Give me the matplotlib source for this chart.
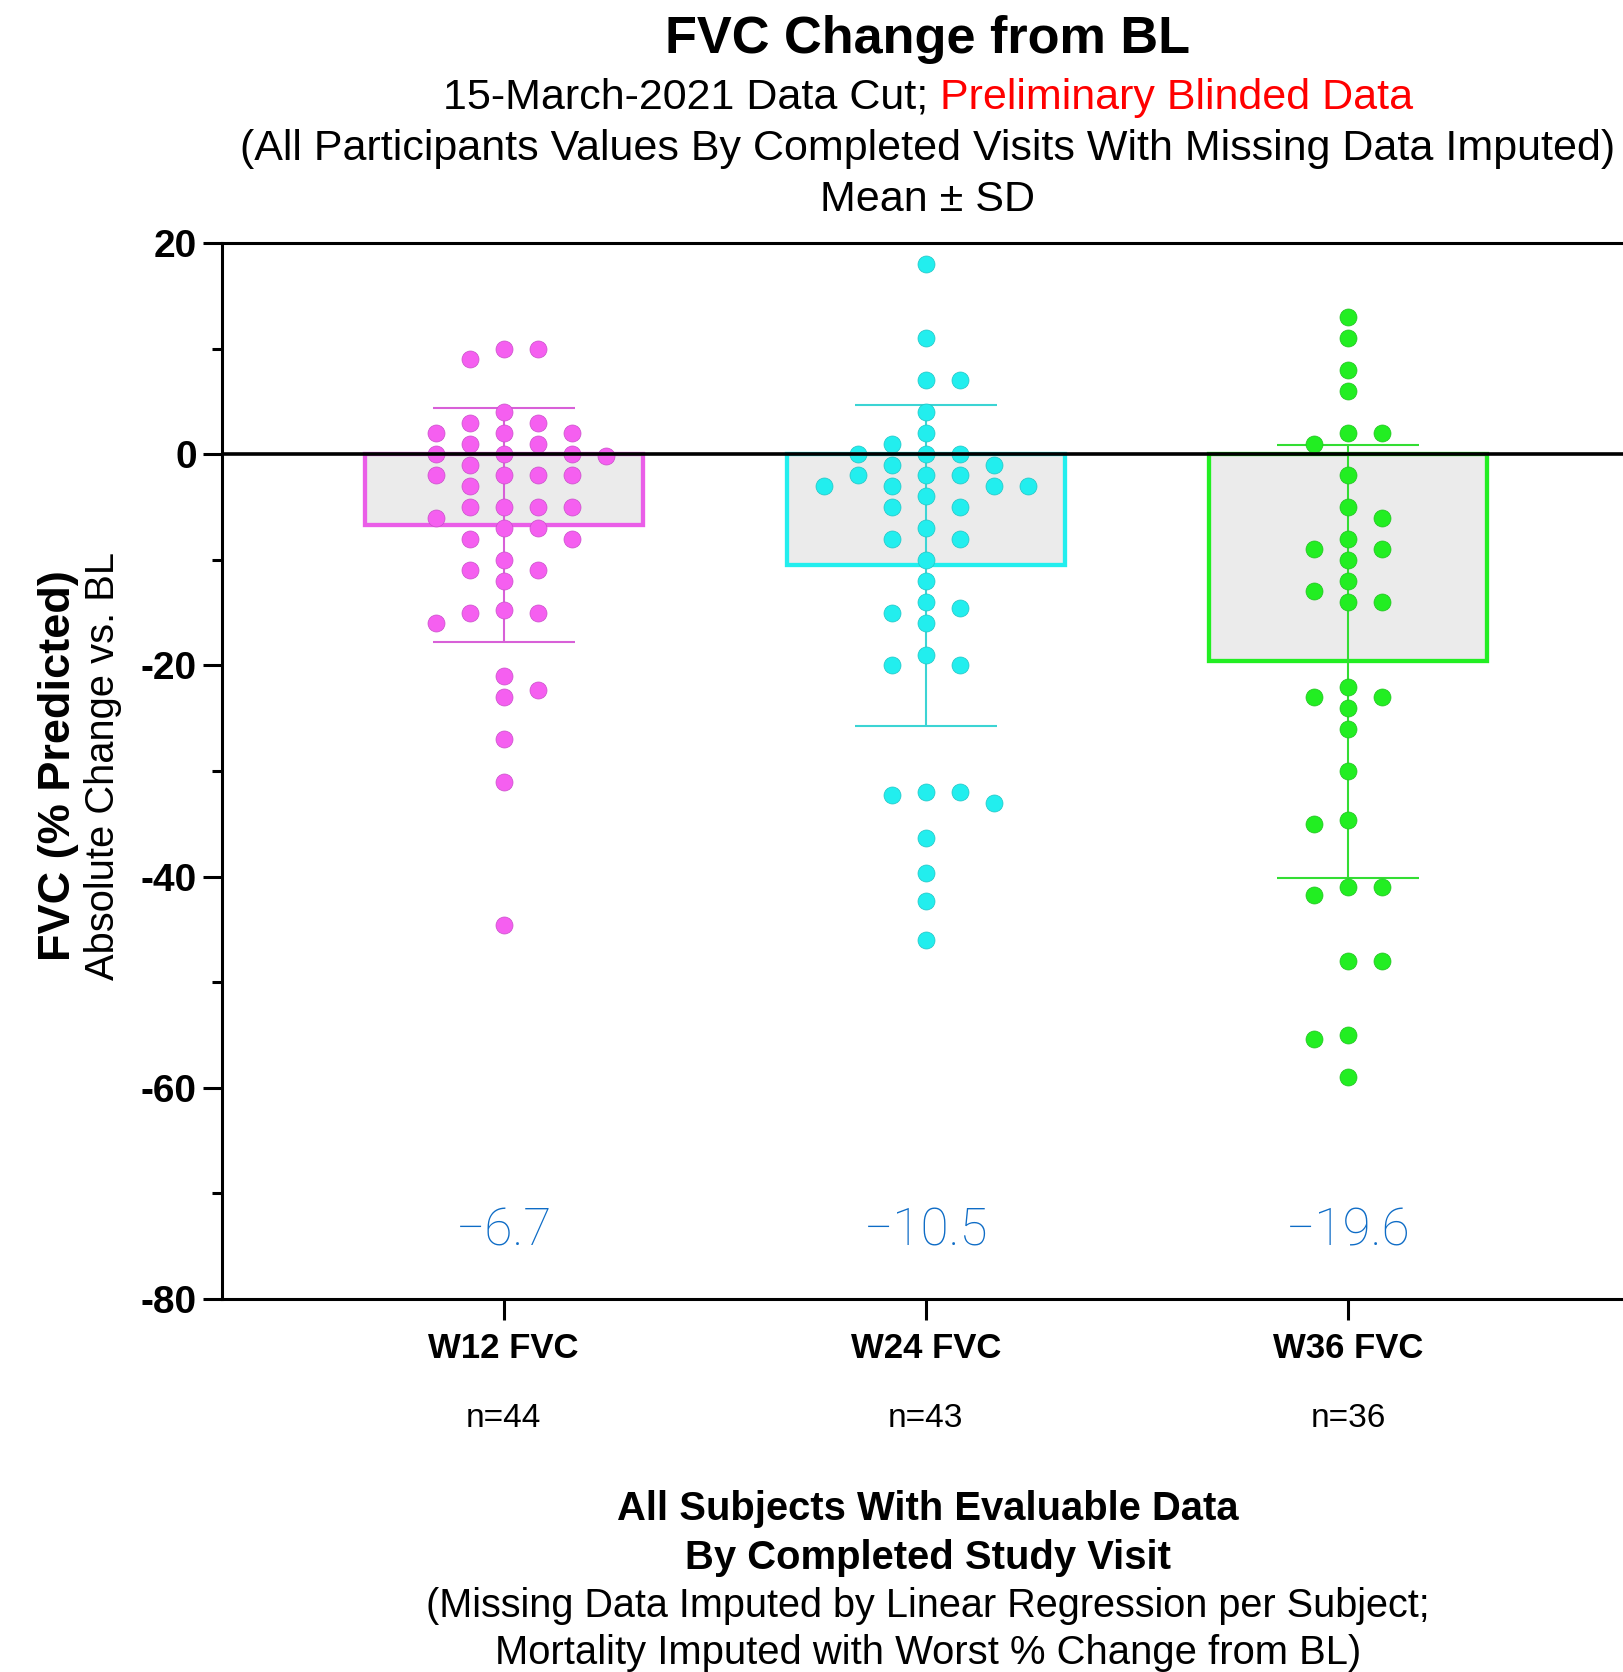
import matplotlib
matplotlib.use("Agg")
import matplotlib.pyplot as plt
import matplotlib.transforms as mtransforms
import numpy as np

# ---------------- data ----------------
categories = ["W12 FVC", "W24 FVC", "W36 FVC"]
n_labels = ["n=44", "n=43", "n=36"]
means = [-6.7, -10.5, -19.6]
sds = [11.1, 15.2, 20.5]

w12_values = [10, 10, 9, 4, 3, 3, 2, 2, 2, 1, 1, 0, 0, 0, -0.2, -1, -2, -2, -2, -2,
              -3, -5, -5, -5, -5, -6, -7, -7, -8, -8, -10, -11, -11, -12, -15, -14.8,
              -16, -15, -21, -22.3, -23, -27, -31, -44.6]
w24_values = [18, 11, 7, 7, 4, 2, 1, 0, 0, 0, -1, -1, -2, -2, -2, -3, -3, -3, -3, -4,
              -5, -5, -7, -8, -8, -10, -12, -14, -14.6, -15, -16, -19, -20, -20, -32,
              -32, -32.3, -33, -36.3, -39.7, -42.3, -46]
w36_values = [13, 11, 8, 6, 2, 2, 1, -2, -5, -6, -8, -9, -9, -10, -12, -13, -14, -14,
              -22, -23, -23, -24, -26, -30, -34.6, -35, -41, -41, -41.7, -48, -48, -55,
              -55.4, -59]
group_values = [w12_values, w24_values, w36_values]

dot_colors = ["#f55ff0", "#22eeee", "#22ee22"]
dot_edges = ["#c850c8", "#22c4c4", "#22c022"]
bar_edge_colors = ["#ea5ee8", "#22eeee", "#22ee22"]
err_colors = ["#d860d8", "#3cd4d4", "#33dd33"]
mean_color = "#0e6cc6"

plt.rcParams["axes.unicode_minus"] = False
FONT = "Liberation Sans"

W, H = 1624, 1672
fig = plt.figure(figsize=(W / 100, H / 100), dpi=100)
ax_left, ax_right, ax_top, ax_bot = 222, 1623, 243, 1299
ax = fig.add_axes([ax_left / W, 1 - ax_bot / H, (ax_right - ax_left) / W, (ax_bot - ax_top) / H])

x = np.arange(len(categories))
ax.set_xlim(-0.667, 2.651)
ax.set_ylim(-80, 20)

# bars and error bars
for i in range(3):
    ax.bar(x[i], means[i], width=0.658, color="#ebebeb", edgecolor=bar_edge_colors[i],
           linewidth=3.1, zorder=1)
    ax.errorbar(x[i], means[i], yerr=sds[i], fmt="none", ecolor=err_colors[i],
                elinewidth=1.5, capsize=51, capthick=1.5, zorder=2)

# swarm layout computed in pixel space
d_px = 17.0


def swarm_offsets(values, cx):
    vals = np.asarray(values, dtype=float)
    pts = ax.transData.transform(np.column_stack([np.full(len(vals), cx), vals]))
    ys = pts[:, 1]
    order = np.argsort(-vals, kind="stable")
    placed = []
    offs = np.zeros(len(vals))
    toggle = 1
    for i in order:
        chosen = None
        for k in range(0, 14):
            signs = [0] if k == 0 else [toggle, -toggle]
            for sgn in signs:
                xo = sgn * k * d_px
                ok = True
                for px, py in placed:
                    if abs(xo - px) < 2 * d_px - 0.5 and abs(ys[i] - py) < d_px - 0.5:
                        ok = False
                        break
                if ok:
                    chosen = xo
                    break
            if chosen is not None:
                break
        if chosen != 0:
            toggle = -toggle
        placed.append((chosen, ys[i]))
        offs[i] = chosen
    px_per_x = ax.transData.transform((1, 0))[0] - ax.transData.transform((0, 0))[0]
    return offs / px_per_x


ms = (d_px * 72 / 100) ** 2
for i, vals in enumerate(group_values):
    offs = swarm_offsets(vals, x[i])
    ax.scatter(x[i] + offs, vals, s=ms, color=dot_colors[i], edgecolors=dot_edges[i],
               linewidths=0.5, zorder=3)

ax.axhline(0, color="black", lw=2.6, zorder=5)

# mean labels
for i in range(3):
    ax.text(x[i], -73.6, "\u2212" + f"{abs(means[i]):.1f}", ha="center", va="center",
            fontsize=37, color=mean_color, family="Roboto", fontweight="light", zorder=6)

# axes styling
for side in ["left", "bottom", "top"]:
    ax.spines[side].set_linewidth(2.2)
    ax.spines[side].set_color("black")
ax.spines["right"].set_visible(False)
ax.set_yticks(list(range(-80, 21, 20)))
ax.set_yticks(list(range(-70, 20, 20)), minor=True)
ax.set_yticklabels([str(v) for v in range(-80, 21, 20)], fontsize=28, fontweight="bold",
                   family=FONT)
ax.tick_params(axis="y", which="major", length=14, width=2.2, pad=4)
ax.tick_params(axis="y", which="minor", length=7.5, width=2.2)
ax.set_xticks(x)
ax.set_xticklabels(categories, fontsize=25, fontweight="bold", family=FONT)
ax.tick_params(axis="x", which="major", length=15, width=2.2, pad=9)

blend = mtransforms.blended_transform_factory(ax.transData, ax.transAxes)
for i in range(3):
    ax.text(x[i], -0.1136, n_labels[i], transform=blend, ha="center", va="center",
            fontsize=24, family=FONT)

# titles
cx = 928 / W
fig.text(cx, 1 - 40 / H, "FVC Change from BL", ha="center", va="center",
         fontsize=37.6, fontweight="bold", family=FONT)

renderer = fig.canvas.get_renderer()


def two_color(y, parts, fs):
    ts = []
    for s, col in parts:
        t = fig.text(0, y, s, color=col, fontsize=fs, ha="left", va="center", family=FONT)
        ts.append(t)
    probe1 = fig.text(0, 0, "x x", fontsize=fs, family=FONT)
    probe2 = fig.text(0, 0, "xx", fontsize=fs, family=FONT)
    sp = probe1.get_window_extent(renderer).width - probe2.get_window_extent(renderer).width
    probe1.remove()
    probe2.remove()
    widths = [t.get_window_extent(renderer).width for t in ts]
    total = sum(widths) + sp * (len(ts) - 1)
    pos = cx * W - total / 2
    for t, w in zip(ts, widths):
        t.set_x(pos / W)
        pos += w + sp


two_color(1 - 98 / H, [("15-March-2021 Data Cut;", "black"),
                       ("Preliminary Blinded Data", "#ff0000")], 31)
fig.text(cx, 1 - 149 / H,
         "(All Participants Values By Completed Visits With Missing Data Imputed)",
         ha="center", va="center", fontsize=31, family=FONT)
fig.text(cx, 1 - 200 / H, "Mean \u00b1 SD", ha="center", va="center",
         fontsize=31, family=FONT)

# y label
fig.text(59 / W, 1 - 766 / H, "FVC (% Predicted)", rotation=90, ha="center",
         va="center", fontsize=32.5, fontweight="bold", family=FONT)
fig.text(103 / W, 1 - 766 / H, "Absolute Change vs. BL", rotation=90, ha="center",
         va="center", fontsize=28.7, family=FONT)

# bottom texts
fig.text(cx, 1 - 1509 / H, "All Subjects With Evaluable Data", ha="center", va="center",
         fontsize=28.8, fontweight="bold", family=FONT)
fig.text(cx, 1 - 1558 / H, "By Completed Study Visit", ha="center", va="center",
         fontsize=28.8, fontweight="bold", family=FONT)
fig.text(cx, 1 - 1606 / H, "(Missing Data Imputed by Linear Regression per Subject;",
         ha="center", va="center", fontsize=28.5, family=FONT)
fig.text(cx, 1 - 1653 / H, "Mortality Imputed with Worst % Change from BL)",
         ha="center", va="center", fontsize=28.8, family=FONT)

fig.savefig("out.png", dpi=100)
